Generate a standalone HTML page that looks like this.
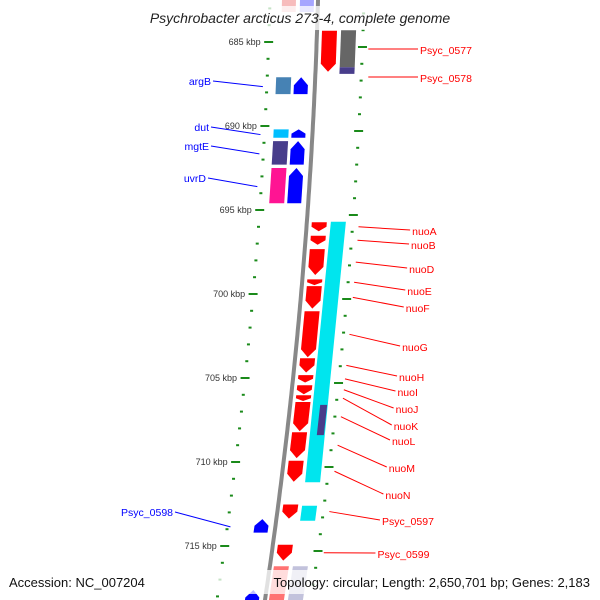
<!DOCTYPE html>
<html><head><meta charset="utf-8"><style>
html,body{margin:0;padding:0;background:#fff;}
svg{display:block;font-family:"Liberation Sans",sans-serif;}
</style></head><body>
<svg id="map" width="600" height="600" viewBox="0 0 600 600">
<g id="ticks"></g>
<g id="genes"></g>
<g id="labels"></g>
<rect x="0" y="6" width="600" height="24" fill="#fff" opacity="0.75"/>
<text x="300" y="23" text-anchor="middle" font-size="14" font-style="italic" fill="#222">Psychrobacter arcticus 273-4, complete genome</text>
<rect x="0" y="570" width="600" height="24" fill="#fff" opacity="0.75"/>
<text x="9" y="587" font-size="13" fill="#111">Accession: NC_007204</text>
<text x="590" y="587" text-anchor="end" font-size="13" fill="#111">Topology: circular; Length: 2,650,701 bp; Genes: 2,183</text>
</svg>
<script>
// data (kbp positions)
const kbpMajor = [685,690,695,700,705,710,715];
const redGenes = [["Psyc_0577",684.3,686.8],["Psyc_0578",684.3,686.9],["nuoA",695.7,696.3],["nuoB",696.5,697.1],["nuoD",697.3,698.9],["nuoE",699.1,699.5],["nuoF",699.5,700.9],["nuoG",701.0,703.8],["nuoH",703.8,704.7],["nuoI",704.8,705.3],["nuoJ",705.4,706.0],["nuoK",706.0,706.4],["nuoL",706.4,708.2],["nuoM",708.2,709.8],["nuoN",709.9,711.2],["Psyc_0597",712.5,713.4],["Psyc_0599",714.9,715.9]];
const redLabelY = [51,79,232,246,270,292,309,348,378,393,410,427,442,469,496,522,555];
const blueGenes = [["argB",687.1,688.1],["dut",690.2,690.7],["mgtE",690.9,692.3],["uvrD",692.5,694.6],["Psyc_0598",713.4,714.2]];
const blueLabelY = [82,128,147,179,513];
const cogColors = ["#4682b4","#00bfff","#483d8b","#ff1493","none"];
const cyanRuns = [[695.7,711.2],[712.6,713.5]];
const purpleRuns = [[706.6,708.4]];

const NS="http://www.w3.org/2000/svg";
function Y(k){return 42+(k-685)*16.8;}
function BX(y){return 318-0.0278*y-0.000101*y*y;}
function mk(tag,attrs,parent){const e=document.createElementNS(NS,tag);for(const k in attrs)e.setAttribute(k,attrs[k]);parent.appendChild(e);return e;}
const gT=document.getElementById('ticks'),gG=document.getElementById('genes'),gL=document.getElementById('labels');

let d="";for(let y=-5;y<=605;y+=5){d+=(y===-5?"M":"L")+BX(y).toFixed(1)+","+y;}
const bb=mk('path',{d:d,stroke:"#888",'stroke-width':4,fill:"none"},gG);



for(let k=682;k<=718;k++){
  const y=Y(k),maj=(k%5===0);
  [[-48,0],[46,5]].forEach(([o,dy])=>{
    const yy=y+dy;const w=maj?9:3;const x=BX(yy)+o;
    const t=mk('line',{x1:x-w/2,y1:yy,x2:x+w/2,y2:yy,stroke:"#1a8a1a",'stroke-width':2},gT);
    
    
  });
}
kbpMajor.forEach(k=>{
  const y=Y(k);
  const t=mk('text',{x:BX(y)-56,y:y+3,'text-anchor':'end','font-size':9,fill:'#333'},gT);
  t.textContent=k+" kbp";
  
  
});

function box(y0,y1,o0,o1,fill,arrow,name){
  let pts;const h=Math.min(8,(y1-y0)*0.5),m=(o0+o1)/2;
  if(arrow===1){const yb=y1-h;pts=[[o0,y0],[o1,y0],[o1,yb],[m,y1],[o0,yb]];}
  else if(arrow===-1){const yt=y0+h;pts=[[m,y0],[o1,yt],[o1,y1],[o0,y1],[o0,yt]];}
  else pts=[[o0,y0],[o1,y0],[o1,y1],[o0,y1]];
  const p=pts.map(([o,y])=>(BX(y)+o).toFixed(1)+","+y.toFixed(1)).join(" ");
  const e=mk('polygon',{points:p,fill:fill},gG);
  
  
  return e;
}
box(-5,12,-36,-22,"#f4a0a0",0,'faded-feature').setAttribute('opacity','0.7');
box(-5,12,-18,-4,"#8080ff",0,'faded-feature').setAttribute('opacity','0.7');

redGenes.forEach((g,i)=>{
  const y0=Y(g[1]),y1=Y(g[2]);
  if(g[0]==="Psyc_0578"){box(y0,Y(686.5),24,39,"#666",0,'gene-Psyc_0578');box(Y(686.5),y1,24,39,"#483d8b",0,'cog-Psyc_0578');return;}
  box(y0+0.5,y1-0.5,5,20,"#ff0000",1,'gene-'+g[0]);
});
cyanRuns.forEach(r=>box(Y(r[0]),Y(r[1]),24,39,"#00e5ee",0,'cog-cyan'));
purpleRuns.forEach(r=>box(Y(r[0]),Y(r[1]),30,37,"#483d8b",0,'cog-purple'));
box(Y(716.2),605,4,19,"#ff0000",0,'faded-feature').setAttribute('opacity','0.55');
box(Y(716.2),605,23,38,"#9090c0",0,'faded-feature').setAttribute('opacity','0.55');
box(590,605,-20,-6,"#0000ff",-1,'faded-feature');

blueGenes.forEach((g,i)=>{
  const y0=Y(g[1]),y1=Y(g[2]);
  box(y0,y1,-21,-7,"#0000ff",-1,'gene-'+g[0]);
  if(cogColors[i]!=="none")box(y0,y1,-39,-24,cogColors[i],0,'cog-'+g[0]);
});

redGenes.forEach((g,i)=>{
  const yc=(Y(g[1])+Y(g[2]))/2,ly=redLabelY[i];
  const top=g[0].startsWith("Psyc_057");
  const x1=BX(yc)+(top?52:52),tx=top?420:BX(ly)+54+52;
  const l=mk('line',{x1:x1,y1:g[0]==="Psyc_0577"?49:(g[0]==="Psyc_0578"?77:yc),x2:tx-2,y2:ly-2,stroke:'#f00','stroke-width':1},gL);
  
  
  const t=mk('text',{x:tx,y:ly+3,'font-size':10.5,fill:'#f00'},gL);
  t.textContent=g[0];
  
  
});
blueGenes.forEach((g,i)=>{
  const yc=(Y(g[1])+Y(g[2]))/2,ly=blueLabelY[i];
  const x1=BX(yc)-(i===4?45:52);
  const tx=i===4?173:(i===3?206:(i===0?211:209));
  const l=mk('line',{x1:tx+2,y1:ly-1,x2:x1,y2:yc+1,stroke:'#00f','stroke-width':1},gL);
  
  
  const t=mk('text',{x:tx,y:ly+3,'font-size':10.5,fill:'#00f','text-anchor':'end'},gL);
  t.textContent=g[0];
  
  
});
</script>
</body></html>
